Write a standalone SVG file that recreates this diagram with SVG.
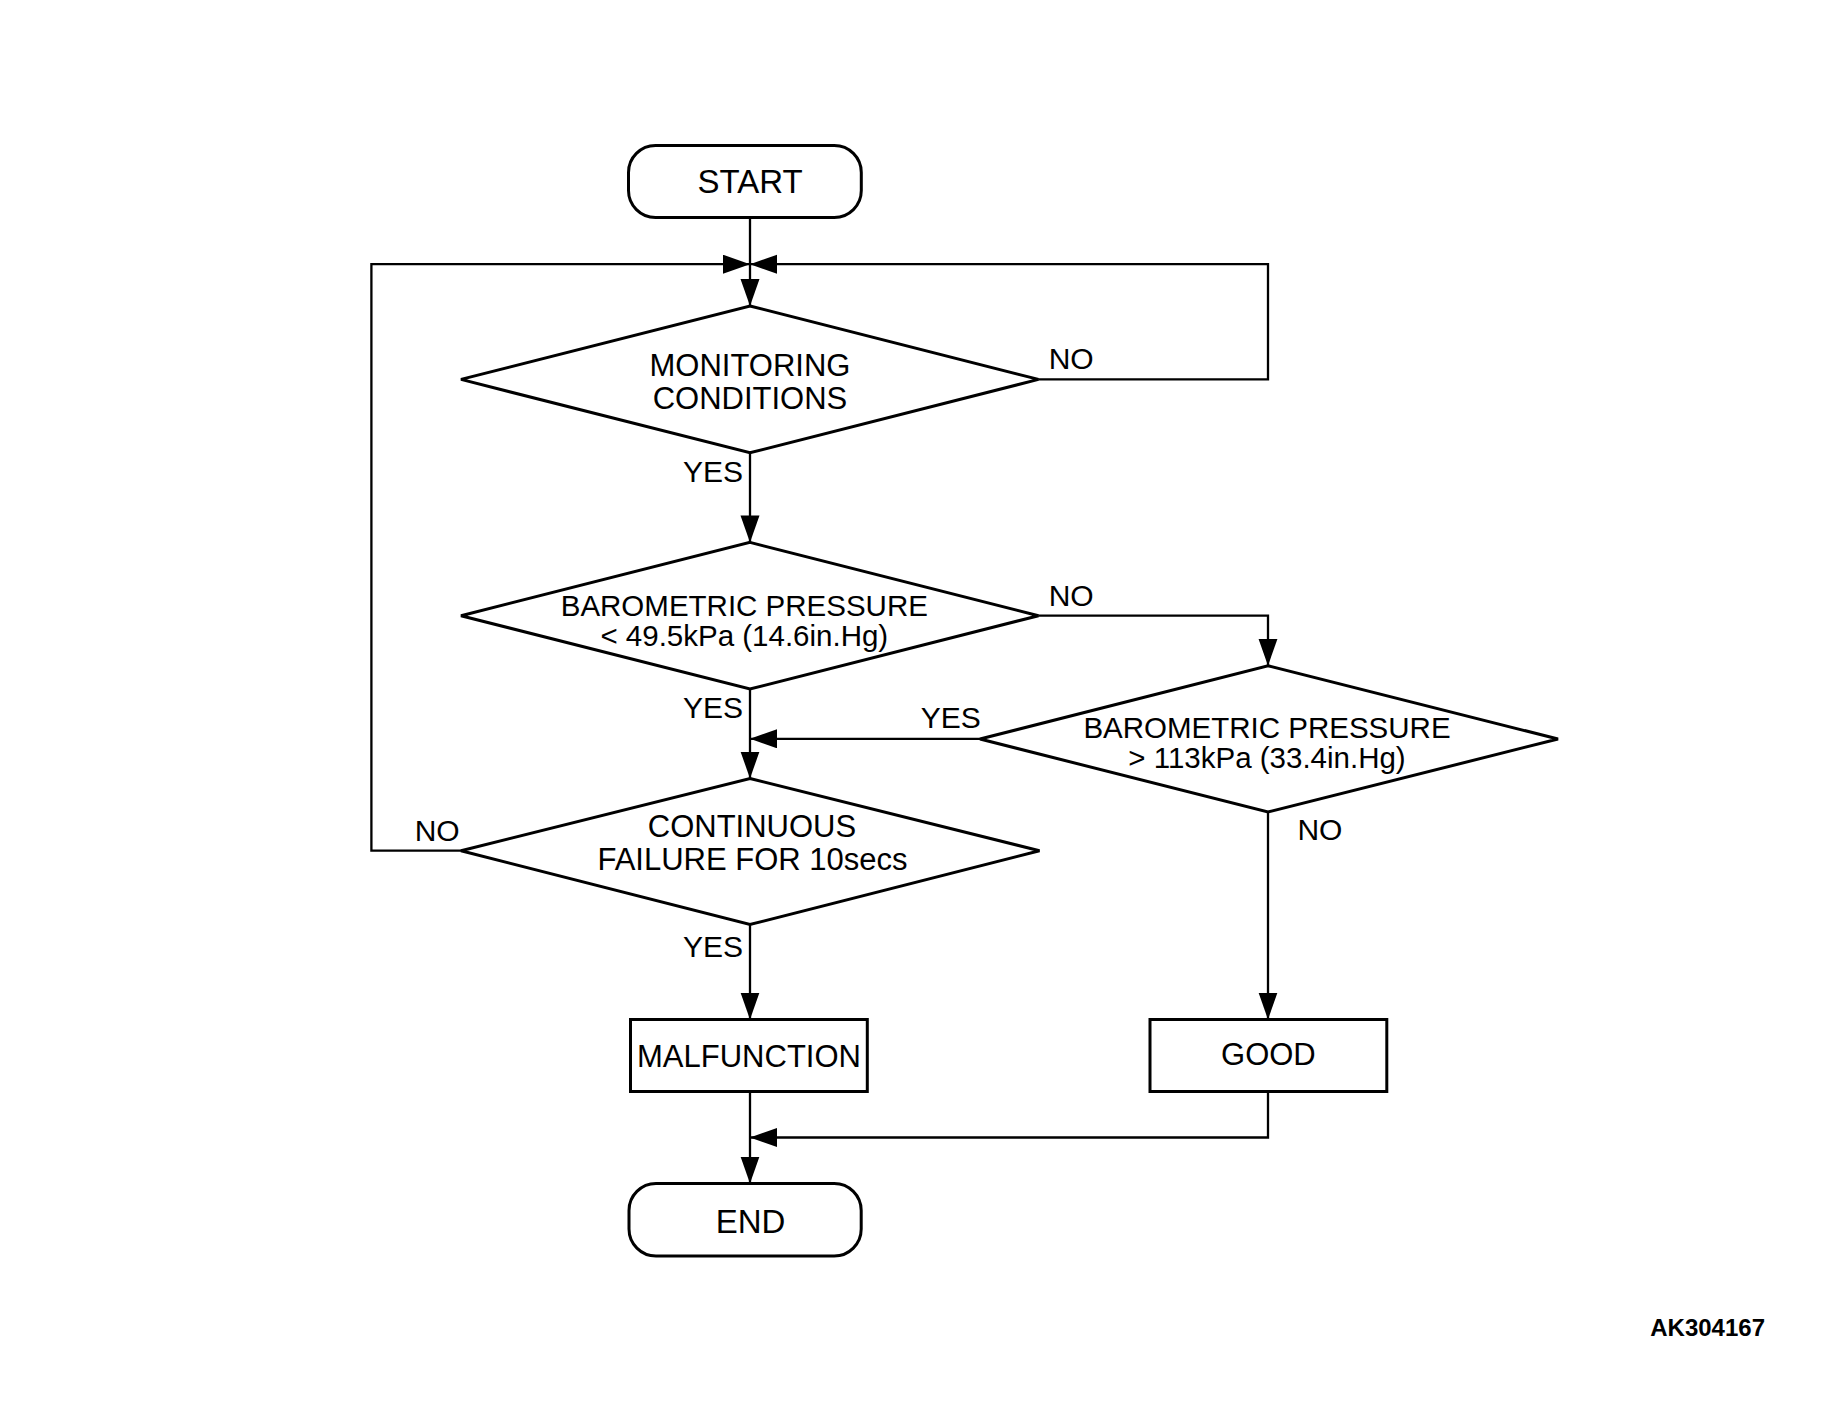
<svg xmlns="http://www.w3.org/2000/svg" width="1825" height="1402" viewBox="0 0 1825 1402">
<style>
.shape{fill:#fff;stroke:#000;stroke-width:3;stroke-linejoin:miter}
.conn{fill:none;stroke:#000;stroke-width:2.3}
text{font-family:"Liberation Sans",Arial,sans-serif;fill:#000}
.t{font-size:31px;text-anchor:middle}
.term{font-size:33px;text-anchor:middle}
.baro{font-size:29.5px;text-anchor:middle}
.lbl{font-size:30px}
.end{text-anchor:end}
.id{font-size:24px;font-weight:bold;text-anchor:end}
</style>
<defs>
<marker id="arr" markerUnits="userSpaceOnUse" markerWidth="28" markerHeight="20" refX="27" refY="9.5" orient="auto">
<path d="M0,0 L27,9.5 L0,19 Z" fill="#000"/>
</marker>
</defs>
<rect width="1825" height="1402" fill="#fff"/>
<g id="connectors">
<path class="conn" d="M750,217.6 L750,306" marker-end="url(#arr)"/>
<path class="conn" d="M461,850.7 L371.4,850.7 L371.4,264.2 L750,264.2" marker-end="url(#arr)"/>
<path class="conn" d="M1038.5,379.4 L1268,379.4 L1268,264.2 L750,264.2" marker-end="url(#arr)"/>
<path class="conn" d="M750,452.8 L750,542.4" marker-end="url(#arr)"/>
<path class="conn" d="M750,689 L750,778.5" marker-end="url(#arr)"/>
<path class="conn" d="M1038.5,615.7 L1268,615.7 L1268,665.8" marker-end="url(#arr)"/>
<path class="conn" d="M980,738.8 L750,738.8" marker-end="url(#arr)"/>
<path class="conn" d="M1268,812 L1268,1019.5" marker-end="url(#arr)"/>
<path class="conn" d="M750,924.5 L750,1019.5" marker-end="url(#arr)"/>
<path class="conn" d="M750,1091.5 L750,1183.5" marker-end="url(#arr)"/>
<path class="conn" d="M1268,1091.5 L1268,1137.5 L750,1137.5" marker-end="url(#arr)"/>
</g>
<g id="start">
<rect class="shape" x="628.5" y="145.5" width="232.8" height="72" rx="27" ry="27"/>
<text class="term" x="750" y="193.3">START</text>
</g>
<g id="monitoring">
<polygon class="shape" points="750,306 1038.5,379.4 750,452.8 461,379.4"/>
<text class="t" x="750" y="376">MONITORING</text>
<text class="t" x="750" y="408.5">CONDITIONS</text>
</g>
<g id="baro-low">
<polygon class="shape" points="750,542.4 1038.5,615.7 750,689 461,615.7"/>
<text class="baro" x="744.3" y="615.5">BAROMETRIC PRESSURE</text>
<text class="baro" x="744.3" y="646.1">&lt; 49.5kPa (14.6in.Hg)</text>
</g>
<g id="baro-high">
<polygon class="shape" points="1268,665.8 1558,739 1268,812 980,739"/>
<text class="baro" x="1267" y="737.7">BAROMETRIC PRESSURE</text>
<text class="baro" x="1267" y="768.3">&gt; 113kPa (33.4in.Hg)</text>
</g>
<g id="continuous">
<polygon class="shape" points="750,778.5 1039.5,850.7 750,924.5 461,850.7"/>
<text class="t" x="752" y="837.3">CONTINUOUS</text>
<text class="t" x="752.5" y="870">FAILURE FOR 10secs</text>
</g>
<g id="malfunction">
<rect class="shape" x="630.5" y="1019.5" width="236.8" height="72"/>
<text class="t" x="749" y="1066.7">MALFUNCTION</text>
</g>
<g id="good">
<rect class="shape" x="1150" y="1019.5" width="236.8" height="72"/>
<text class="t" x="1268.4" y="1065">GOOD</text>
</g>
<g id="end">
<rect class="shape" x="629" y="1183.5" width="232.2" height="72.5" rx="27" ry="27"/>
<text class="term" x="750.5" y="1232.7">END</text>
</g>
<g id="labels">
<text class="lbl end" x="743" y="482">YES</text>
<text class="lbl" x="1048.7" y="369.3">NO</text>
<text class="lbl" x="1048.7" y="606">NO</text>
<text class="lbl end" x="743" y="718.3">YES</text>
<text class="lbl" x="920.7" y="728.3">YES</text>
<text class="lbl" x="1297.4" y="840">NO</text>
<text class="lbl" x="414.7" y="840.7">NO</text>
<text class="lbl end" x="743" y="956.7">YES</text>
</g>
<text class="id" x="1765" y="1336">AK304167</text>
</svg>
